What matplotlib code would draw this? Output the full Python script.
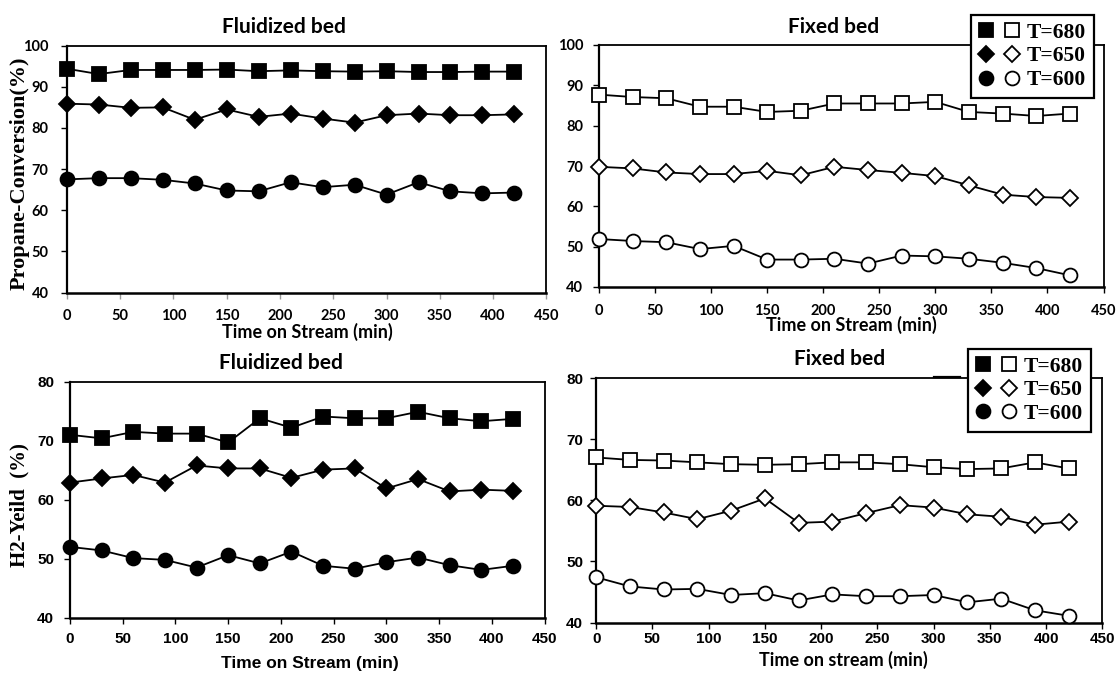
import matplotlib
matplotlib.use("Agg")
import matplotlib.pyplot as plt
from matplotlib.lines import Line2D
from matplotlib.legend_handler import HandlerTuple

# Time on stream (min)
time_min = [0, 30, 60, 90, 120, 150, 180, 210, 240, 270, 300, 330, 360, 390, 420]

# Propane conversion (%)
conv_fluid_680 = [94.4, 93.1, 94.1, 94.1, 94.1, 94.2, 93.8, 94.0, 93.8, 93.7, 93.8, 93.6, 93.6, 93.7, 93.7]
conv_fluid_650 = [85.9, 85.7, 84.9, 85.0, 82.0, 84.5, 82.7, 83.5, 82.3, 81.3, 83.1, 83.5, 83.1, 83.1, 83.3]
conv_fluid_600 = [67.5, 67.8, 67.8, 67.4, 66.5, 64.8, 64.6, 66.8, 65.6, 66.2, 63.8, 66.8, 64.6, 64.1, 64.3]

conv_fixed_680 = [87.7, 87.1, 86.8, 84.7, 84.7, 83.4, 83.7, 85.5, 85.5, 85.5, 85.9, 83.4, 83.0, 82.4, 83.0]
conv_fixed_650 = [69.8, 69.4, 68.4, 68.0, 68.0, 68.8, 67.7, 69.8, 69.0, 68.3, 67.5, 65.2, 62.9, 62.3, 62.1]
conv_fixed_600 = [51.9, 51.4, 51.1, 49.4, 50.2, 46.8, 46.8, 47.0, 45.8, 47.8, 47.6, 47.0, 46.0, 44.7, 42.9]

# H2 yield (%)
h2_fluid_680 = [71.0, 70.4, 71.5, 71.2, 71.2, 69.7, 73.8, 72.2, 74.1, 73.8, 73.8, 74.9, 73.8, 73.3, 73.7]
h2_fluid_650 = [62.9, 63.6, 64.2, 62.9, 65.8, 65.3, 65.3, 63.7, 65.1, 65.3, 61.9, 63.5, 61.4, 61.7, 61.5]
h2_fluid_600 = [52.0, 51.4, 50.1, 49.8, 48.5, 50.6, 49.2, 51.2, 48.8, 48.3, 49.4, 50.2, 48.9, 48.1, 48.8]

h2_fixed_680 = [67.0, 66.6, 66.5, 66.2, 65.9, 65.8, 65.9, 66.2, 66.2, 65.9, 65.4, 65.1, 65.2, 66.2, 65.2]
h2_fixed_650 = [59.1, 58.9, 58.0, 56.9, 58.3, 60.3, 56.3, 56.5, 57.9, 59.2, 58.8, 57.7, 57.3, 56.0, 56.5]
h2_fixed_600 = [47.4, 45.9, 45.4, 45.5, 44.5, 44.8, 43.6, 44.6, 44.3, 44.3, 44.5, 43.3, 43.9, 42.0, 41.1]

temps = ["T=680", "T=650", "T=600"]
x_ticks = [0, 50, 100, 150, 200, 250, 300, 350, 400, 450]

CAL = ["Lato", "DejaVu Sans"]
ARN = ["Liberation Sans Narrow", "Liberation Sans", "DejaVu Sans"]
SERIF = ["Liberation Serif", "DejaVu Serif"]

markers = ["s", "D", "o"]
msizes = [9.5, 8.0, 10.0]

fig = plt.figure(figsize=(11.17, 6.75), dpi=100)
fig.patch.set_facecolor("white")

W, H = 1117, 675


def make_axes(left, top, right, bottom):
    return fig.add_axes([left / W, 1 - bottom / H, (right - left) / W, (bottom - top) / H])


def style_axes(ax, ylim, yticks, tick_family, xtick_color="black", ypad=8.5, xpad=8.0,
               tick_size=10.5):
    ax.set_xlim(0, 450)
    ax.set_ylim(*ylim)
    ax.set_xticks(x_ticks)
    ax.set_yticks(yticks)
    for s in ax.spines.values():
        s.set_linewidth(1.3)
        s.set_color("black")
    ax.spines["left"].set_linewidth(1.6)
    ax.spines["bottom"].set_linewidth(1.8)
    ax.tick_params(axis="y", direction="out", length=4, width=1, pad=ypad, colors="black")
    ax.tick_params(axis="x", direction="out", length=4, width=1, pad=xpad, color=xtick_color,
                   labelcolor="black")
    for lab in ax.get_xticklabels() + ax.get_yticklabels():
        lab.set_family(tick_family)
        lab.set_fontweight("bold")
        lab.set_fontsize(tick_size)


def draw_series(ax, series, filled):
    for vals, mk, ms in zip(series, markers, msizes):
        ax.plot(time_min, vals, color="black", lw=1.3, marker=mk, ms=ms,
                mfc="black" if filled else "white", mec="black", mew=1.3,
                clip_on=False, zorder=3)


def add_title(ax, text, x, y):
    ax.text(x, y, text, transform=ax.transAxes, ha="center", va="center",
            fontsize=15, fontweight="bold", family=CAL)


def add_xlabel(ax, text, x, y, family, size):
    ax.set_xlabel(text, fontsize=size, fontweight="bold", family=family)
    ax.xaxis.label.set_va("center")
    ax.xaxis.set_label_coords(x, y)


def add_ylabel(ax, text, x, y, size):
    ax.set_ylabel(text, fontsize=size, fontweight="bold", family=SERIF)
    ax.yaxis.label.set_va("center")
    ax.yaxis.set_label_coords(x, y)


def add_legend(ax, x, y):
    handles = []
    for mk, ms in zip(markers, msizes):
        f = Line2D([], [], ls="none", marker=mk, ms=ms, mfc="black", mec="black", mew=1.3)
        o = Line2D([], [], ls="none", marker=mk, ms=ms, mfc="white", mec="black", mew=1.3)
        handles.append((f, o))
    leg = ax.legend(handles, temps, handler_map={tuple: HandlerTuple(ndivide=None, pad=0.5)},
                    loc="upper left", bbox_to_anchor=(x, y), bbox_transform=ax.transAxes,
                    borderaxespad=0, borderpad=0.35, handlelength=1.9, handletextpad=0.35,
                    labelspacing=0.17, fancybox=False, framealpha=1, edgecolor="black",
                    prop={"family": SERIF, "weight": "bold", "size": 15.5})
    leg.get_frame().set_linewidth(1.6)
    leg.set_zorder(10)
    return leg


# Propane conversion, fluidized bed
ax1 = make_axes(66.8, 45.7, 546.4, 292.5)
draw_series(ax1, [conv_fluid_680, conv_fluid_650, conv_fluid_600], filled=True)
style_axes(ax1, (40, 100), [40, 50, 60, 70, 80, 90, 100], CAL, xtick_color="#9a9a9a",
           ypad=9.0, xpad=8.0)
add_title(ax1, "Fluidized bed", 0.453, 1.076)
add_xlabel(ax1, "Time on Stream (min)", 0.502, -0.158, CAL, 13)
add_ylabel(ax1, "Propane-Conversion(%)", -0.0976, 0.482, 16)

# Propane conversion, fixed bed
ax2 = make_axes(599, 45, 1103.5, 287)
draw_series(ax2, [conv_fixed_680, conv_fixed_650, conv_fixed_600], filled=False)
style_axes(ax2, (40, 100), [40, 50, 60, 70, 80, 90, 100], CAL, ypad=7.5, xpad=8.0)
add_title(ax2, "Fixed bed", 0.465, 1.074)
add_xlabel(ax2, "Time on Stream (min)", 0.501, -0.157, CAL, 13)
add_legend(ax2, 0.737, 1.124)

# H2 yield, fluidized bed
ax3 = make_axes(70, 381.7, 544.6, 617.7)
draw_series(ax3, [h2_fluid_680, h2_fluid_650, h2_fluid_600], filled=True)
style_axes(ax3, (40, 80), [40, 50, 60, 70, 80], ARN, ypad=7.5, xpad=6.5, tick_size=11)
add_title(ax3, "Fluidized bed", 0.4446, 1.079)
add_xlabel(ax3, "Time on Stream (min)", 0.5057, -0.194, ARN, 12.5)
add_ylabel(ax3, "H2-Yeild  (%)", -0.1054, 0.4775, 15)

# H2 yield, fixed bed
ax4 = make_axes(596.2, 378, 1102.4, 622.5)
draw_series(ax4, [h2_fixed_680, h2_fixed_650, h2_fixed_600], filled=False)
style_axes(ax4, (40, 80), [40, 50, 60, 70, 80], ARN, ypad=5.5, xpad=2.5, tick_size=11)
add_title(ax4, "Fixed bed", 0.4816, 1.078)
add_xlabel(ax4, "Time on stream (min)", 0.4875, -0.153, CAL, 13)
add_legend(ax4, 0.7345, 1.119)
ax4.plot([0.668, 0.718], [1.004, 1.004], transform=ax4.transAxes, color="black",
         lw=1.6, clip_on=False, zorder=4)

fig.savefig("out.png", dpi=100, facecolor="white")
